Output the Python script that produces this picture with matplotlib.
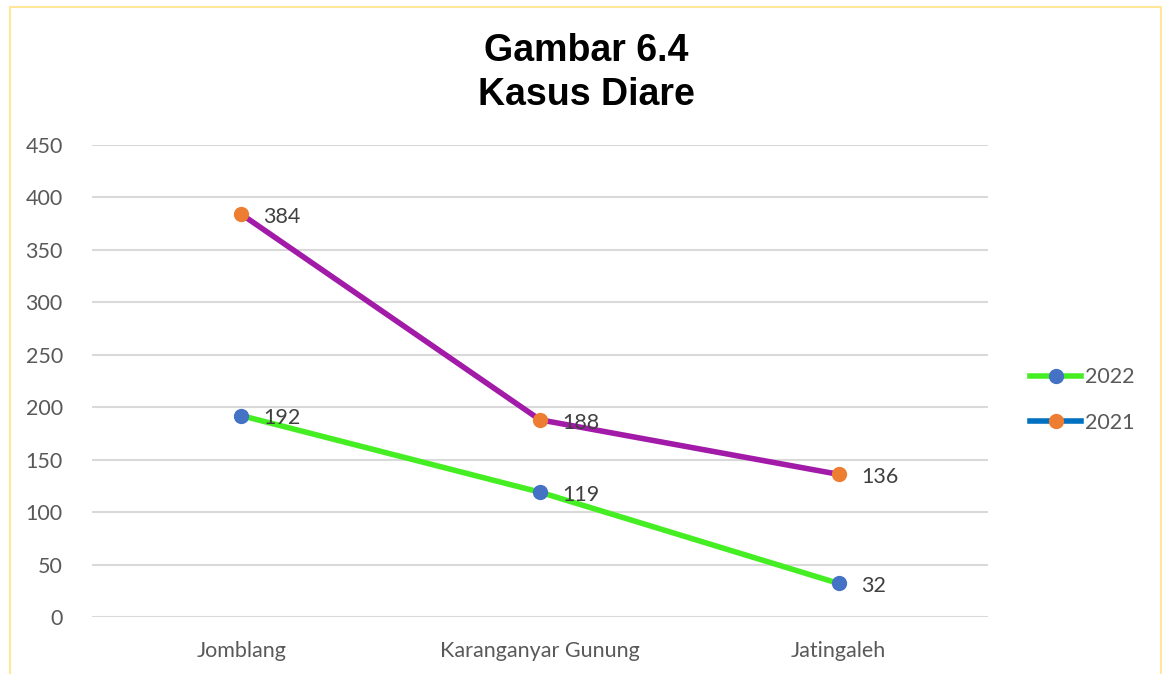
import matplotlib
matplotlib.use("Agg")
import matplotlib.pyplot as plt
from matplotlib.lines import Line2D
from matplotlib.patches import Rectangle

categories = ["Jomblang", "Karanganyar Gunung", "Jatingaleh"]
values_2022 = [192, 119, 32]
values_2021 = [384, 188, 136]
yticks = [0, 50, 100, 150, 200, 250, 300, 350, 400, 450]

W, H = 1162, 674
fig = plt.figure(figsize=(W / 100, H / 100), dpi=100)
fig.patch.set_facecolor("white")

# outer chart border (light yellow)
fig.add_artist(Rectangle((10 / W, -0.01), (1161 - 10) / W, (H - 7) / H + 0.01,
                         transform=fig.transFigure, fill=False,
                         edgecolor="#FFE699", linewidth=1.5))

ax = fig.add_axes([92 / W, (H - 617) / H, (988 - 92) / W, (617 - 145) / H])
x = list(range(len(categories)))

ax.plot(x, values_2021, color="#A21AA8", linewidth=4, zorder=3,
        marker="o", markersize=10, markerfacecolor="#ED7D31",
        markeredgecolor="#ED7D31", solid_capstyle="round")
ax.plot(x, values_2022, color="#44EE22", linewidth=4, zorder=3,
        marker="o", markersize=10, markerfacecolor="#4472C4",
        markeredgecolor="#4472C4", solid_capstyle="round")

for xi, v in zip(x, values_2021):
    ax.annotate(str(v), (xi, v), xytext=(16, -2), textcoords="offset points",
                va="center", ha="left", fontsize=15.5, color="#404040",
                family="Lato", zorder=4)
for xi, v in zip(x, values_2022):
    ax.annotate(str(v), (xi, v), xytext=(16, -2), textcoords="offset points",
                va="center", ha="left", fontsize=15.5, color="#404040",
                family="Lato", zorder=4)

ax.set_xlim(-0.5, 2.5)
ax.set_ylim(0, 450)
ax.set_yticks(yticks)
ax.set_xticks(x)
ax.set_xticklabels(categories)
ax.yaxis.grid(True, color="#D9D9D9", linewidth=1.5)
ax.set_axisbelow(True)
for s in ax.spines.values():
    s.set_visible(False)
ax.tick_params(axis="both", length=0, labelsize=15.5, labelcolor="#595959")
ax.tick_params(axis="y", pad=21)
ax.tick_params(axis="x", pad=17)
for lab in ax.get_xticklabels() + ax.get_yticklabels():
    lab.set_family("Lato")

fig.text(586 / W, 1 - 73 / H, "Gambar 6.4\nKasus Diare", ha="center", va="center",
         fontsize=27, fontweight="bold", family="Liberation Sans",
         linespacing=1.26, color="black")

handles = [
    Line2D([], [], color="#44EE22", linewidth=4, marker="o", markersize=10,
           markerfacecolor="#4472C4", markeredgecolor="#4472C4"),
    Line2D([], [], color="#0070C0", linewidth=4, marker="o", markersize=10,
           markerfacecolor="#ED7D31", markeredgecolor="#ED7D31"),
]
leg = fig.legend(handles, ["2022", "2021"], loc="center left",
                 bbox_to_anchor=(1011 / W, 1 - 400 / H), frameon=False,
                 handlelength=2.35, labelspacing=1.2, handletextpad=0.2,
                 prop={"family": "Lato", "size": 15.5})
for t in leg.get_texts():
    t.set_color("#595959")

fig.savefig("out.png", dpi=100, facecolor="white")
